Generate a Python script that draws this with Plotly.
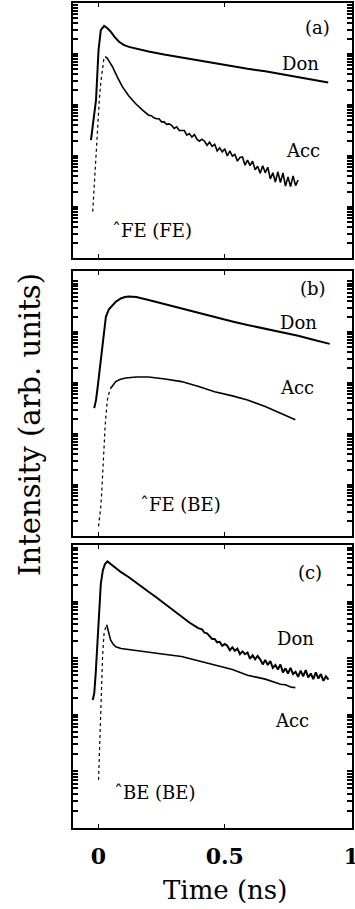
import plotly.graph_objects as go

# ---------------- data (time in ns, intensity as log10 arb. units) ----------------
don_a_t = [-0.029, -0.02, -0.009, 0.001, 0.010, 0.023, 0.035, 0.049, 0.065, 0.082, 0.10, 0.121, 0.16, 0.199,
           0.26, 0.329, 0.40, 0.46, 0.53, 0.59, 0.66, 0.72, 0.80, 0.86, 0.909]
don_a_log = [2.31, 2.70, 3.10, 4.08, 4.47, 4.55, 4.51, 4.44, 4.33, 4.24, 4.18, 4.14, 4.09, 4.05,
             3.99, 3.93, 3.87, 3.82, 3.76, 3.71, 3.66, 3.61, 3.54, 3.49, 3.44]

acc_a_rise_t = [-0.022, -0.015, -0.009, -0.003, 0.004, 0.010, 0.017, 0.022, 0.027]
acc_a_rise_log = [0.91, 1.50, 2.12, 2.62, 3.10, 3.45, 3.75, 3.90, 3.95]
acc_a_t = [0.027, 0.035, 0.045, 0.056, 0.075, 0.095, 0.12, 0.147, 0.175, 0.199,
           0.21, 0.22, 0.23, 0.24, 0.25, 0.26, 0.27, 0.28, 0.29, 0.30, 0.31, 0.32, 0.33, 0.34, 0.35,
           0.36, 0.37, 0.38, 0.39, 0.40, 0.41, 0.42, 0.43, 0.44, 0.45, 0.46, 0.47, 0.48, 0.49, 0.50,
           0.51, 0.52, 0.53, 0.54, 0.55, 0.56, 0.57, 0.58, 0.59, 0.60, 0.61, 0.62, 0.63, 0.64, 0.65,
           0.66, 0.67, 0.68, 0.69, 0.70, 0.71, 0.72, 0.73, 0.74, 0.75, 0.76, 0.77, 0.78, 0.79]
acc_a_log = [3.95, 3.92, 3.84, 3.75, 3.55, 3.36, 3.18, 3.03, 2.90, 2.80,
             2.79, 2.75, 2.73, 2.73, 2.67, 2.67, 2.62, 2.63, 2.60, 2.54, 2.57, 2.50, 2.50, 2.50, 2.41,
             2.44, 2.37, 2.42, 2.33, 2.29, 2.33, 2.29, 2.21, 2.27, 2.19, 2.23, 2.10, 2.16, 2.08, 2.14,
             2.00, 2.10, 2.00, 2.03, 1.90, 1.97, 1.98, 1.82, 1.92, 1.81, 1.90, 1.73, 1.80, 1.66, 1.81,
             1.67, 1.78, 1.55, 1.67, 1.49, 1.69, 1.48, 1.67, 1.41, 1.59, 1.40, 1.61, 1.42, 1.53]

don_b_t = [-0.016, -0.009, -0.003, 0.004, 0.010, 0.017, 0.024, 0.030, 0.042, 0.056, 0.070, 0.089, 0.105,
           0.121, 0.15, 0.199, 0.26, 0.329, 0.40, 0.46, 0.53, 0.59, 0.66, 0.72, 0.79, 0.85, 0.915]
don_b_log = [2.51, 2.67, 2.90, 3.19, 3.50, 3.85, 4.12, 4.30, 4.45, 4.53, 4.60, 4.66, 4.69,
             4.70, 4.69, 4.63, 4.55, 4.47, 4.38, 4.30, 4.21, 4.14, 4.07, 4.01, 3.93, 3.85, 3.77]

acc_b_rise_t = [0.001, 0.006, 0.010, 0.014, 0.017, 0.020, 0.023, 0.027, 0.030, 0.036, 0.042, 0.049]
acc_b_rise_log = [0.19, 0.40, 0.58, 0.90, 1.23, 1.56, 1.89, 2.15, 2.34, 2.67, 2.80, 2.90]
acc_b_t = [0.049, 0.06, 0.069, 0.085, 0.108, 0.15, 0.199, 0.264, 0.329, 0.40, 0.46, 0.53, 0.59,
           0.66, 0.72, 0.779]
acc_b_log = [2.90, 2.98, 3.03, 3.07, 3.10, 3.12, 3.12, 3.08, 3.03, 2.93, 2.83, 2.75, 2.67,
             2.54, 2.41, 2.28]

don_c_t = [-0.022, -0.016, -0.010, -0.003, 0.003, 0.010, 0.018, 0.026, 0.036, 0.05, 0.07, 0.09, 0.121,
           0.15, 0.173, 0.20, 0.225, 0.264, 0.30, 0.329, 0.36, 0.395,
           0.41, 0.42, 0.43, 0.44, 0.45, 0.46, 0.47, 0.48, 0.49, 0.50, 0.51, 0.52, 0.53, 0.54, 0.55,
           0.56, 0.57, 0.58, 0.59, 0.60, 0.61, 0.62, 0.63, 0.64, 0.65, 0.66, 0.67, 0.68, 0.69, 0.70,
           0.71, 0.72, 0.73, 0.74, 0.75, 0.76, 0.77, 0.78, 0.79, 0.80, 0.81, 0.82, 0.83, 0.84, 0.85,
           0.86, 0.87, 0.88, 0.89, 0.90, 0.91]
don_c_log = [2.26, 2.38, 2.75, 3.32, 3.85, 4.32, 4.55, 4.66, 4.71, 4.66, 4.59, 4.52, 4.43,
             4.33, 4.26, 4.17, 4.09, 3.96, 3.84, 3.74, 3.63, 3.53,
             3.51, 3.45, 3.44, 3.39, 3.34, 3.34, 3.28, 3.29, 3.22, 3.25, 3.22, 3.14, 3.19, 3.13, 3.17,
             3.07, 3.12, 3.07, 3.10, 2.99, 3.05, 2.98, 3.04, 2.98, 2.89, 2.97, 2.88, 2.95, 2.83, 2.88,
             2.80, 2.89, 2.75, 2.82, 2.73, 2.83, 2.72, 2.76, 2.67, 2.78, 2.68, 2.79, 2.66, 2.73, 2.63,
             2.75, 2.64, 2.72, 2.60, 2.68, 2.62]

acc_c_rise_t = [0.001, 0.005, 0.010, 0.014, 0.017, 0.020, 0.023, 0.028, 0.033]
acc_c_rise_log = [0.85, 1.50, 2.14, 2.65, 3.03, 3.25, 3.44, 3.53, 3.59]
acc_c_t = [0.033, 0.04, 0.049, 0.06, 0.069, 0.09, 0.12, 0.16, 0.199, 0.26, 0.329, 0.40, 0.46, 0.53,
           0.59, 0.66, 0.70, 0.72, 0.74, 0.76, 0.779]
acc_c_log = [3.59, 3.48, 3.32, 3.24, 3.20, 3.17, 3.15, 3.13, 3.11, 3.07, 3.03, 2.95, 2.88, 2.80,
             2.70, 2.63, 2.57, 2.54, 2.53, 2.49, 2.48]

x_ticks = [0, 0.5, 1]
x_tick_labels = ["0", "0.5", "1"]

# ---------------- layout geometry ----------------
W, H = 355, 909
ML, MR, MT, MB = 73, 3, 3, 81
PW, PH = W - ML - MR, H - MT - MB


def fx(p):
    return (p - ML) / PW


def fy(p):
    return (H - MB - p) / PH


FONT = "DejaVu Serif"
fig = go.Figure()


def lin(v):
    return [10 ** a for a in v]


panels = [
    (don_a_t, don_a_log, acc_a_rise_t, acc_a_rise_log, acc_a_t, acc_a_log, "x", "y"),
    (don_b_t, don_b_log, acc_b_rise_t, acc_b_rise_log, acc_b_t, acc_b_log, "x2", "y2"),
    (don_c_t, don_c_log, acc_c_rise_t, acc_c_rise_log, acc_c_t, acc_c_log, "x3", "y3"),
]
for dt, dl, rt, rl, at, al, xa, ya in panels:
    fig.add_trace(go.Scatter(x=dt, y=lin(dl), mode="lines", line=dict(color="black", width=2),
                             xaxis=xa, yaxis=ya, showlegend=False))
    fig.add_trace(go.Scatter(x=rt, y=lin(rl), mode="lines", line=dict(color="black", width=1.2, dash="dot"),
                             xaxis=xa, yaxis=ya, showlegend=False))
    fig.add_trace(go.Scatter(x=at, y=lin(al), mode="lines", line=dict(color="black", width=1.6),
                             xaxis=xa, yaxis=ya, showlegend=False))

domains = [[fy(258), fy(3)], [fy(536), fy(271)], [fy(828), fy(545)]]
yranges = [[0, 5], [0, 5.2], [0, 5]]

common_x = dict(range=[-0.1, 1.003], tickvals=x_ticks, ticktext=x_tick_labels, ticks="inside", ticklen=4,
                showline=True, linecolor="black", linewidth=2, mirror="ticks", showgrid=False, zeroline=False,
                tickcolor="black", automargin=False)
for i in range(3):
    sx = "" if i == 0 else str(i + 1)
    xd = dict(common_x, anchor="y" + sx, showticklabels=(i == 2))
    if i == 2:
        xd.update(tickfont=dict(family=FONT, size=22, color="black", weight="bold"), ticklabelstandoff=8,
                  ticklabeloverflow="allow")
    if i > 0:
        xd["matches"] = "x"
    fig.layout["xaxis" + sx] = xd
    fig.layout["yaxis" + sx] = dict(type="log", range=yranges[i], domain=domains[i], anchor="x" + sx,
                                    showline=True, linecolor="black", linewidth=2, mirror="ticks",
                                    ticks="inside", ticklen=5, tickwidth=1.5, tickcolor="black", dtick="D1",
                                    showticklabels=False, showgrid=False, zeroline=False, automargin=False)

labels = [
    ("(a)", 317, 28), ("Don", 300, 63), ("Acc", 303, 150), ("ˆFE (FE)", 152, 230),
    ("(b)", 313, 288), ("Don", 298, 322), ("Acc", 297, 387), ("ˆFE (BE)", 180, 505),
    ("(c)", 310, 572), ("Don", 295, 638), ("Acc", 292, 720), ("ˆBE (BE)", 155, 792),
]
for txt, px, py in labels:
    fig.add_annotation(text=txt, x=fx(px), y=fy(py), xref="paper", yref="paper", showarrow=False,
                       xanchor="center", yanchor="middle",
                       font=dict(family=FONT, size=18, color="black"))

fig.add_annotation(text="Intensity (arb. units)", x=fx(30), y=fy(425), xref="paper", yref="paper",
                   showarrow=False, textangle=-90, xanchor="center", yanchor="middle",
                   font=dict(family=FONT, size=29, color="black"))
fig.add_annotation(text="Time (ns)", x=fx(225), y=fy(890), xref="paper", yref="paper",
                   showarrow=False, xanchor="center", yanchor="middle",
                   font=dict(family=FONT, size=26, color="black"))

fig.update_layout(width=W, height=H, margin=dict(l=ML, r=MR, t=MT, b=MB),
                  paper_bgcolor="white", plot_bgcolor="white")
fig.write_html("out.html")
